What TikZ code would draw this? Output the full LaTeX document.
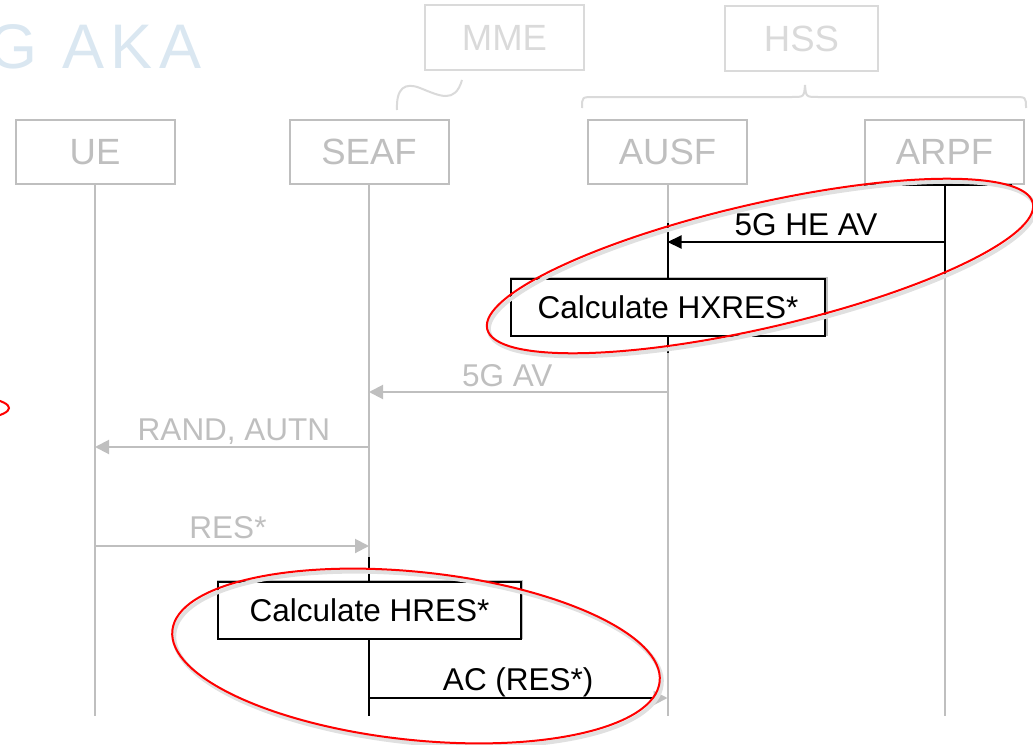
\documentclass[tikz,border=0pt]{standalone}
\usepackage{fontspec}
\setmainfont{Liberation Sans}
\usetikzlibrary{arrows.meta, calc}
\definecolor{lineGrey}{HTML}{BFBFBF}
\definecolor{paleGrey}{HTML}{DADADA}
\definecolor{titleBlue}{HTML}{DAE7F1}
\begin{document}
\begin{tikzpicture}[x=1pt, y=-1pt, line width=2pt,
    entity/.style={draw=lineGrey, text=lineGrey, minimum width=159pt, minimum height=64pt, inner sep=0pt, font=\fontsize{36.5}{40}\selectfont},
    outer/.style={entity, draw=paleGrey, text=paleGrey, minimum height=65pt},
    msg/.style={inner sep=0pt, text depth=0pt, font=\fontsize{31.5}{36}\selectfont},
    calcbox/.style={msg, draw=black, minimum height=57pt},
    ghostbox/.style={calcbox, draw=lineGrey},
    greyarrow/.style={lineGrey, -{Triangle[length=14pt, width=14pt]}},
    blackarrow/.style={black, -{Triangle[length=14pt, width=13pt]}},
    redring/.style={red, line width=2pt}]
    \useasboundingbox (0,0) rectangle (1033,744);

    % title, cut at the left edge
    \node[anchor=base east, inner sep=0pt, text=titleBlue, font=\fontsize{63}{70}\selectfont\addfontfeature{LetterSpace=11}] (title) at (203,68) {G AKA};

    % legacy entities
    \node[outer] (mme) at (504.5,37.5) {MME};
    \node[outer, minimum width=153pt] (hss) at (801.5,38.5) {HSS};
    \draw[paleGrey] (397,110) .. controls (396,88) and (405,82) .. (420,88) .. controls (440,96) and (455,104) .. (462,80);
    \draw[paleGrey] (582,108) .. controls (582,97) .. (594,97) -- (792,97) .. controls (804,97) .. (805,85) .. controls (806,97) .. (818,97) -- (1014,97) .. controls (1026,97) .. (1026,108);

    % 5G entities
    \node[entity] (ue) at (95,152) {UE};
    \node[entity] (seaf) at (369,152) {SEAF};
    \node[entity] (ausf) at (667.5,152) {AUSF};
    \node[entity] (arpf) at (944.5,152) {ARPF};

    % message rows
    \coordinate (bottom) at (0,716);
    \coordinate (r0) at (0,223);
    \coordinate (r1) at (0,242);
    \coordinate (r1end) at (0,275);
    \coordinate (r2) at (0,307);
    \coordinate (r3) at (0,392);
    \coordinate (r4) at (0,447);
    \coordinate (r5) at (0,546);
    \coordinate (r5end) at (0,557);
    \coordinate (r6) at (0,610.5);
    \coordinate (r7) at (0,698);

    % lifelines
    \foreach \e in {ue, seaf, ausf, arpf}
        \draw[lineGrey] (\e.south) -- (\e.south |- bottom);

    % grey messages
    \draw[greyarrow] (ausf.south |- r3) -- (seaf.south |- r3) node[msg, midway, above=4.5pt, xshift=-11pt, text=lineGrey] {5G AV};
    \draw[greyarrow] (seaf.south |- r4) -- (ue.south |- r4) node[msg, midway, above=6pt, xshift=2pt, text=lineGrey] {RAND, AUTN};
    \draw[greyarrow] (ue.south |- r5) -- (seaf.south |- r5) node[msg, midway, above=7pt, xshift=-4pt, text=lineGrey] {RES*};

    % HXRES* in the home network
    \draw (arpf.south west) -- ++(148,0);
    \draw (arpf.south) -- (arpf.south |- r1end);
    \draw[blackarrow] (arpf.south |- r1) -- (ausf.south |- r1) node[msg, midway, above=6pt] {5G HE AV};
    \node[ghostbox, minimum width=316pt, yshift=1pt] (hxghost) at ($(ausf.south |- r2) + (1.5,0)$) {\phantom{Calculate HXRES*}};
    \node[calcbox, fill=white, minimum width=314pt] (hxres) at ($(ausf.south |- r2) + (0.5,0)$) {Calculate HXRES*};
    \draw (ausf.south |- r0) -- (ausf.south |- hxres.north);
    \draw (ausf.south |- hxres.south) -- ++(0,16);

    % HRES* in the serving network
    \node[ghostbox, minimum width=304pt, yshift=1.5pt] (hrghost) at ($(seaf.south |- r6) + (1,0)$) {\phantom{Calculate HRES*}};
    \node[calcbox, fill=white, minimum width=303pt] (hres) at ($(seaf.south |- r6) + (0.5,0)$) {Calculate HRES*};
    \draw (seaf.south |- r5end) -- (seaf.south |- hres.north);
    \draw (seaf.south |- hres.south) -- (seaf.south |- bottom);
    \draw[greyarrow] (seaf.south |- r7) -- (ausf.south |- r7) node[msg, midway, above=7pt, text=black] {AC (RES*)};
    \draw (seaf.south |- r7) -- ++(284,0);

    % red rings
    \draw[black!12, line width=4pt, rotate around={13:(762,269)}] (762,269) ellipse [x radius=280, y radius=62];
    \draw[redring, rotate around={13:(760,266)}] (760,266) ellipse [x radius=280, y radius=62];
    \draw[black!12, line width=4pt, rotate around={-6:(418,659)}] (418,659) ellipse [x radius=245, y radius=84];
    \draw[redring, rotate around={-6:(416,656)}] (416,656) ellipse [x radius=245, y radius=84];
    \draw[redring] (-58,408) ellipse [x radius=67, y radius=14];
\end{tikzpicture}
\end{document}
